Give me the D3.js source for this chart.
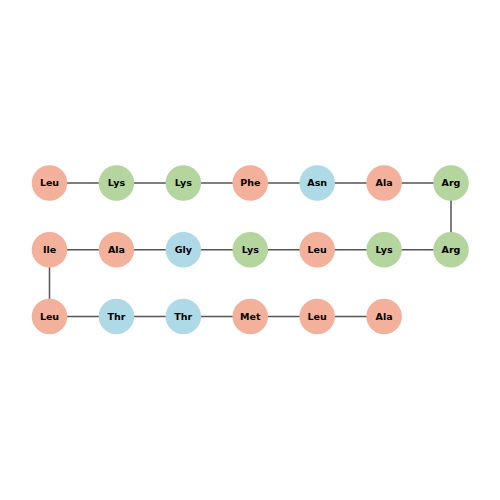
<!DOCTYPE html>
<html>
<head>
<meta charset="utf-8">
<script src="https://d3js.org/d3.v7.min.js"></script>
<style>
  body { margin: 0; background: #fff; }
</style>
</head>
<body>
<div id="chart"></div>
<script>
// peptide sequence, read in order along the snake
var residues = ["Leu", "Lys", "Lys", "Phe", "Asn", "Ala", "Arg",
                "Arg", "Lys", "Leu", "Lys", "Gly", "Ala", "Ile",
                "Leu", "Thr", "Thr", "Met", "Leu", "Ala"];
var groups = ["hydrophobic", "polar", "basic"];
var groupColors = ["#f3b09a", "#aed9e6", "#b4d59d"];
var residueGroup = {
  Leu: "hydrophobic", Phe: "hydrophobic", Ala: "hydrophobic", Ile: "hydrophobic", Met: "hydrophobic",
  Asn: "polar", Gly: "polar", Thr: "polar",
  Lys: "basic", Arg: "basic"
};
var perRow = 7;

var width = 500, height = 500;

var svg = d3.select("#chart")
  .append("svg")
  .attr("width", width)
  .attr("height", height);

// serpentine layout: even rows left to right, odd rows right to left
var nodes = residues.map(function(r, i) {
  var row = Math.floor(i / perRow);
  var k = i % perRow;
  var col = row % 2 === 0 ? k : perRow - 1 - k;
  return {name: r, row: row, col: col};
});

var x = d3.scaleLinear().domain([0, perRow - 1]).range([49.5, 451]);
var y = d3.scaleLinear().domain([0, 2]).range([183, 316.5]);
var color = d3.scaleOrdinal().domain(groups).range(groupColors);

// bonds
svg.append("g")
  .selectAll("line")
  .data(d3.pairs(nodes))
  .enter().append("line")
  .attr("x1", function(d) { return x(d[0].col); })
  .attr("y1", function(d) { return y(d[0].row); })
  .attr("x2", function(d) { return x(d[1].col); })
  .attr("y2", function(d) { return y(d[1].row); })
  .attr("stroke", "#555")
  .attr("stroke-width", 1.5);

var g = svg.append("g")
  .selectAll("g")
  .data(nodes)
  .enter().append("g")
  .attr("transform", function(d) { return "translate(" + x(d.col) + "," + y(d.row) + ")"; });

g.append("circle")
  .attr("r", 17.8)
  .attr("fill", function(d) { return color(residueGroup[d.name]); });

g.append("text")
  .attr("text-anchor", "middle")
  .attr("dy", "0.35em")
  .style("font-family", "DejaVu Sans")
  .style("font-weight", "bold")
  .style("font-size", "9.5px")
  .text(function(d) { return d.name; });
</script>
</body>
</html>
